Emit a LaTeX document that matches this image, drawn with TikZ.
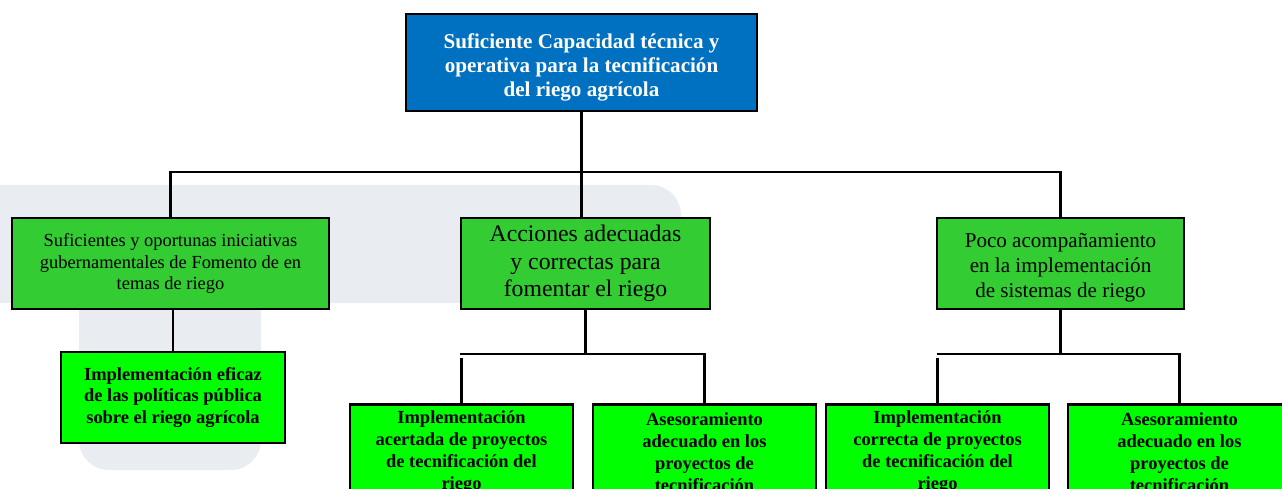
\documentclass[tikz,border=0pt]{standalone}
\usepackage{fontspec}
\setmainfont{Liberation Serif}
\definecolor{topblue}{HTML}{0070C0}
\definecolor{midgreen}{HTML}{33CC33}
\definecolor{leafgreen}{HTML}{00FF00}
\definecolor{wmark}{HTML}{E9ECF1}
\begin{document}
\begin{tikzpicture}[x=0.02cm,y=-0.02cm,
	box/.style={draw=black,line width=1.5pt,inner sep=0pt,align=center},
	cause/.style={box,fill=midgreen,minimum height=1.82cm},
	leaf/.style={box,fill=leafgreen,anchor=north,minimum width=4.46cm,minimum height=1.9cm,font=\bfseries\fontsize{10.5}{12.5}\selectfont},
	link/.style={line width=1.2pt}]
		\useasboundingbox (0,0) rectangle (1282,488);
		\clip (0,0) rectangle (1282,488);
		
		\fill[wmark,rounded corners=17pt] (-60,185) rectangle (681,303);
		\fill[wmark,rounded corners=17pt] (79,240) rectangle (261,470);
		
		\node[box,fill=topblue,minimum width=7.02cm,minimum height=1.94cm] (meta) at (581.5,62.5) {};
		\node[align=center,inner sep=0pt,text=white,font=\bfseries\fontsize{12}{13.6}\selectfont] (metatxt) at ([yshift=-0.1cm]meta.center) {Suficiente Capacidad técnica y\\operativa para la tecnificación\\del riego agrícola};
		
		\node[cause,minimum width=6.34cm,font=\fontsize{10.5}{12.2}\selectfont] (inic) at (170.5,263.5) {Suficientes y oportunas iniciativas\\gubernamentales de Fomento de en\\temas de riego};
		\node[cause,minimum width=4.98cm,font=\fontsize{13.5}{15.6}\selectfont] (acc) at (585.5,263.5) {Acciones adecuadas\\y correctas para\\fomentar el riego};
		\node[cause,minimum width=4.94cm] (acomp) at (1060.5,263.5) {};
		\node[align=center,inner sep=0pt,font=\fontsize{12}{14.2}\selectfont] (acomptxt) at ([yshift=-0.08cm]acomp.center) {Poco acompañamiento\\en la implementación\\de sistemas de riego};
		
		\node[box,fill=leafgreen,minimum width=4.48cm,minimum height=1.82cm,font=\bfseries\fontsize{10.5}{12.2}\selectfont] (polit) at (173,397.5) {Implementación eficaz\\de las políticas pública\\sobre el riego agrícola};
		
		\node[leaf] (impl1) at (461.5,403) {Implementación\\acertada de proyectos\\de tecnificación del\\riego};
		\node[leaf] (ases1) at (704.5,403) {Asesoramiento\\adecuado en los\\proyectos de\\tecnificación};
		\node[leaf] (impl2) at (937.5,403) {Implementación\\correcta de proyectos\\de tecnificación del\\riego};
		\node[leaf] (ases2) at (1179.5,403) {Asesoramiento\\adecuado en los\\proyectos de\\tecnificación};
		
		\coordinate (cruce) at (581,172);
		\draw[link] (meta.south) -- (meta.south |- acc.north);
		\draw[link] (inic.north) |- (cruce) -| (acomp.north);
		\draw[link] (inic.south -| polit.north) -- (polit.north);
		
		\coordinate (accbar) at (460,354);
		\draw[link] (acc.south) -- (acc.south |- accbar);
		\draw[link] (accbar) -| (ases1.north);
		\draw[link] (impl1.north) -- ++(0,-45);
		
		\coordinate (acompbar) at (937,354);
		\draw[link] (acomp.south) -- (acomp.south |- acompbar);
		\draw[link] (acompbar) -| (ases2.north);
		\draw[link] (impl2.north) -- ++(0,-45);
	\end{tikzpicture}
\end{document}
